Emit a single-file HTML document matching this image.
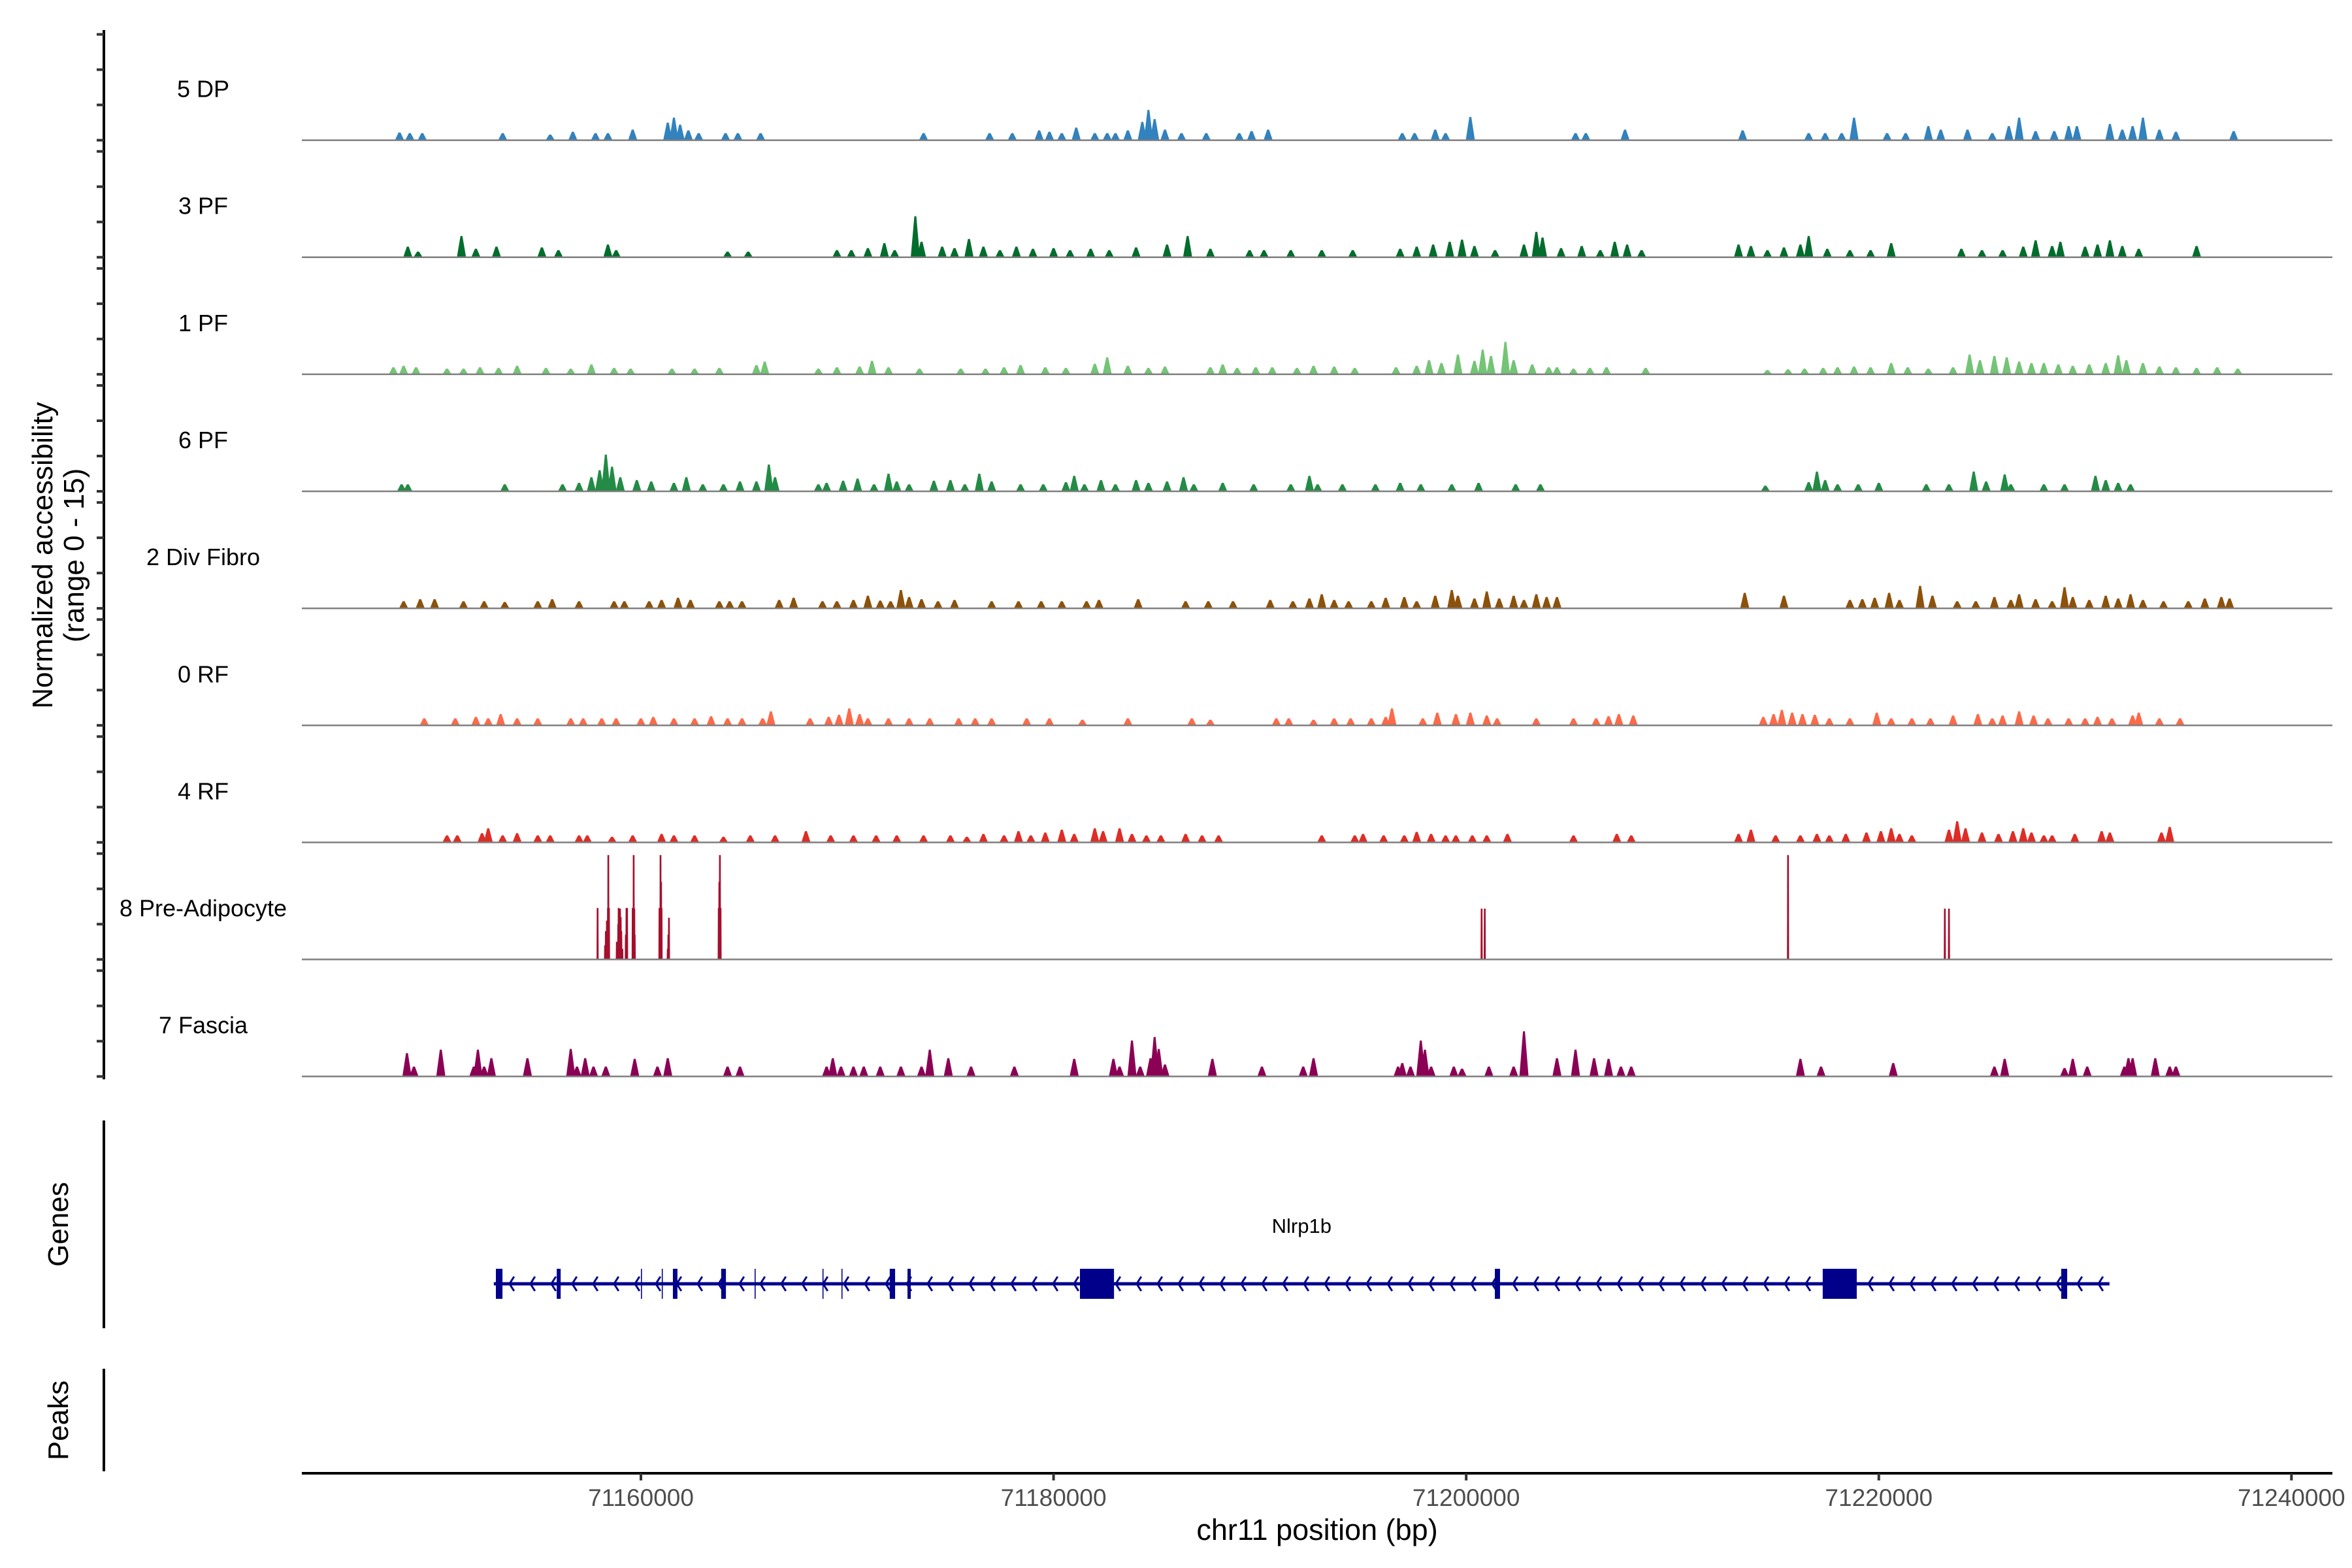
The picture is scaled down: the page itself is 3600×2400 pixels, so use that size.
<!DOCTYPE html>
<html><head><meta charset="utf-8"><title>Coverage plot</title>
<style>html,body{margin:0;padding:0;background:#fff}svg{display:block}text{font-family:"Liberation Sans",Arial,sans-serif}</style>
</head><body>
<svg id="chart" width="3600" height="2400" viewBox="0 0 3600 2400" xmlns="http://www.w3.org/2000/svg">
<rect x="0" y="0" width="3600" height="2400" fill="#fff"/>
<g id="tracks"></g>
<g id="yaxis"></g>
<text transform="translate(80,850) rotate(-90)" text-anchor="middle" font-size="44" fill="#000">Normalized accessibility</text>
<text transform="translate(128,850) rotate(-90)" text-anchor="middle" font-size="44" fill="#000">(range 0 - 15)</text>
<line x1="159" y1="1715" x2="159" y2="2033" stroke="#000" stroke-width="4"/>
<text transform="translate(104,1874) rotate(-90)" text-anchor="middle" font-size="44" fill="#000">Genes</text>
<line x1="159" y1="2095" x2="159" y2="2252" stroke="#000" stroke-width="4"/>
<text transform="translate(104,2174) rotate(-90)" text-anchor="middle" font-size="44" fill="#000">Peaks</text>
<g id="gene"></g>
<g id="xaxis"></g>
<text x="2016" y="2357" text-anchor="middle" font-size="45" fill="#000">chr11 position (bp)</text>
</svg>
<script>
var NS="http://www.w3.org/2000/svg";
var trackNames=["5 DP","3 PF","1 PF","6 PF","2 Div Fibro","0 RF","4 RF","8 Pre-Adipocyte","7 Fascia"];
var trackColors=["#3182bd","#006d2c","#74c476","#238b45","#8c510a","#fb6a4a","#de2d26","#a50f2d","#8b0055"];
var xTicks=[71160000,71180000,71200000,71220000,71240000];
var xTickLabels=["71160000","71180000","71200000","71220000","71240000"];
var yTickValues=[0,5,10,15];
// peaks: [position kb offset from 71,000,000, normalized accessibility]
var dp5=[[148.3,1.1],[148.8,1],[149.4,1],[153.3,1],[155.6,0.8],[156.7,1.2],[157.8,1],[158.4,1],[159.6,1.5],[161.3,2.5],[161.6,3.2],[161.9,2.2],[162.3,1.4],[162.8,1],[164.1,1],[164.7,1],[165.8,1],[173.7,1],[176.9,1],[178,1],[179.3,1.4],[179.8,1.2],[180.4,1],[181.1,1.8],[182,1],[182.6,1],[183,1],[183.6,1.4],[184.3,2.6],[184.6,4.3],[184.9,3],[185.4,1.5],[186.2,1],[187.4,1],[189,1],[189.6,1.3],[190.4,1.5],[196.9,1],[197.5,1],[198.5,1.5],[199,1],[200.2,3.3],[205.3,1],[205.8,1],[207.7,1.5],[213.4,1.4],[216.6,1],[217.4,1],[218.2,1],[218.8,3.2],[220.4,1],[221.3,1],[222.4,2],[223,1.5],[224.3,1.5],[225.5,1],[226.3,2],[226.8,3.2],[227.6,1.3],[228.5,1.3],[229.2,2],[229.6,2],[231.2,2.3],[231.8,1.5],[232.3,2],[232.8,3.2],[233.6,1.5],[234.4,1.2],[237.2,1.3]];
var pf3=[[148.7,1.5],[149.2,0.8],[151.3,3],[152,1.2],[153,1.5],[155.2,1.4],[156,1],[158.4,1.8],[158.8,1],[164.2,0.8],[165.2,0.8],[169.5,1],[170.2,1],[171,1.3],[171.8,2],[172.3,1],[173.3,5.8],[173.6,2.2],[174.6,1.5],[175.2,1.3],[175.9,2.6],[176.6,1.5],[177.4,1],[178.2,1.5],[179,1.2],[180,1.3],[180.8,1],[181.8,1.2],[182.7,1],[184,1.4],[185.5,1.8],[186.5,3],[187.6,1.2],[189.5,1],[190.2,1],[191.5,1],[193,1],[194.5,1],[196.8,1.2],[197.6,1.5],[198.4,1.8],[199.2,2.2],[199.8,2.5],[200.4,1.6],[201.4,1],[202.8,1.8],[203.4,3.6],[203.7,2.8],[204.6,1.3],[205.6,1.6],[206.5,1],[207.2,2.2],[207.8,1.8],[208.5,1],[213.2,1.8],[213.8,1.6],[214.6,1],[215.4,1.4],[216.2,1.8],[216.6,3],[217.5,1.2],[218.6,1],[219.6,1],[220.6,2],[224,1.2],[225,1],[226,1],[227,1.5],[227.6,2.4],[228.4,1.6],[228.8,2.2],[230,1.5],[230.6,1.8],[231.2,2.4],[231.8,1.6],[232.6,1.2],[235.4,1.6]];
var pf1=[[148,1],[148.5,1.2],[149.1,1],[150.6,0.8],[151.4,0.8],[152.2,1],[153.1,0.9],[154,1.2],[155.4,0.9],[156.6,0.8],[157.6,1.4],[158.7,0.9],[159.5,0.8],[161.5,0.8],[162.6,0.8],[163.8,0.9],[165.6,1.3],[166,1.8],[168.6,0.8],[169.5,1],[170.6,1.1],[171.2,1.9],[172,1],[173.5,0.8],[175.5,0.8],[176.7,0.8],[177.6,1],[178.4,1.3],[179.6,1],[180.6,0.9],[182,1.5],[182.6,2.4],[183.6,1.2],[184.6,0.9],[185.4,1.1],[187.6,1],[188.2,1.4],[188.9,0.9],[189.8,1],[190.6,1],[191.8,0.9],[192.6,1.2],[193.6,1.1],[194.6,0.9],[196.6,1],[197.6,1.2],[198.2,2],[198.8,1.6],[199.6,2.8],[200.4,1.9],[200.8,3.5],[201.2,2.6],[201.9,4.6],[202.3,2],[203.2,1.4],[204,1],[204.4,1],[205.2,0.8],[206,0.9],[206.8,1],[208.7,0.9],[214.6,0.6],[215.6,0.7],[216.4,0.8],[217.3,0.9],[218,1],[218.8,1.1],[219.6,1],[220.6,1.6],[221.4,1],[222.4,0.8],[223.6,1],[224.4,2.8],[224.9,2],[225.6,2.6],[226.2,2.4],[226.8,1.8],[227.4,1.6],[228,1.6],[228.7,1.4],[229.4,1.2],[230.2,1.4],[231,1.6],[231.6,2.7],[232,2],[232.8,1.6],[233.6,1.1],[234.4,1],[235.4,0.9],[236.4,1],[237.4,0.8]];
var pf6=[[148.4,1],[148.7,1],[153.4,1],[156.2,1],[157,1.2],[157.6,2],[158,3],[158.3,5.2],[158.6,3.5],[159,2],[159.8,1.6],[160.5,1.4],[161.6,1.2],[162.2,2],[163,1],[164,1],[164.8,1.4],[165.6,1.4],[166.2,3.8],[166.5,2],[168.6,1],[169,1.2],[169.8,1.5],[170.5,1.8],[171.3,1],[172,2.5],[172.4,1.4],[173,1],[174.2,1.5],[175,1.6],[175.7,1],[176.4,2.5],[177,1.4],[178.4,1],[179.5,1],[180.6,1.3],[181,2.2],[181.5,1],[182.3,1.6],[183,1],[184,1.6],[184.6,1.2],[185.5,1.4],[186.3,2],[186.8,1],[188.2,1.2],[189.7,1],[191.5,1],[192.4,2.2],[192.8,1],[194,1],[195.6,1],[196.8,1.2],[197.8,1],[199.3,1],[200.6,1.2],[202.4,1],[203.6,1],[214.5,0.8],[216.6,1.3],[217,2.8],[217.4,1.6],[218,1],[219,1],[220,1.2],[222.3,1],[223.4,1],[224.6,2.8],[225.2,1.4],[226.1,2.4],[226.4,1],[228,1],[229,1],[230.5,2.2],[231,1.6],[231.6,1.2],[232.2,1]];
var divFibro=[[148.5,1],[149.3,1.3],[150,1.3],[151.4,1],[152.4,1],[153.4,0.9],[155,1],[155.7,1.3],[157,1],[158.7,1],[159.2,1],[160.4,1],[161,1.2],[161.8,1.5],[162.4,1.2],[163.8,1],[164.3,1],[164.9,1],[166.7,1.2],[167.4,1.5],[168.8,1],[169.5,1],[170.3,1.2],[171,1.8],[171.6,1.1],[172.1,1],[172.6,2.6],[173,1.6],[173.6,1.3],[174.4,1],[175.2,1.2],[177,1],[178.3,1],[179.4,1],[180.4,1],[181.6,1],[182.2,1.2],[184.1,1.3],[186.4,1],[187.5,1],[188.7,1],[190.5,1.2],[191.6,1],[192.4,1.4],[193,2],[193.6,1.2],[194.3,1],[195.4,1],[196.1,1.5],[197,1.6],[197.6,1],[198.5,1.8],[199.3,2.6],[199.6,1.8],[200.4,1.4],[201,2.4],[201.6,1.4],[202.3,1.8],[202.8,1.2],[203.4,2],[203.9,1.6],[204.4,1.6],[213.5,2.2],[215.4,1.8],[218.6,1.2],[219.2,1.3],[219.8,1.5],[220.5,2.2],[221,1.2],[222,3.2],[222.6,1.8],[223.8,1],[224.7,1],[225.6,1.6],[226.4,1.2],[226.8,2],[227.6,1.3],[228.4,1],[229,3],[229.4,1.6],[230.2,1.2],[231,1.8],[231.6,1.4],[232.2,2],[232.8,1.2],[233.8,1],[235,1],[235.8,1.4],[236.6,1.6],[237,1.4]];
var rf0=[[149.5,1],[151,1],[152,1.2],[152.6,1],[153.2,1.6],[154,1],[155,1],[156.6,1],[157.2,1],[158.1,1],[158.8,1],[160,1],[160.6,1.2],[161.6,1],[162.6,1],[163.4,1.3],[164.2,1],[164.9,1],[165.9,1],[166.3,2],[168.2,1],[169.1,1.2],[169.6,1.5],[170.1,2.4],[170.6,1.6],[171,1],[172,1],[173,1],[174,1],[175.4,1],[176.2,1],[177,1],[178.7,1],[179.8,1],[181.4,0.8],[183.6,1],[186.7,1],[187.6,0.8],[190.8,1],[191.4,1],[192.6,0.8],[193.6,1],[194.4,1],[195.4,1],[196.1,1.2],[196.4,2.4],[197.9,1],[198.6,1.8],[199.5,1.6],[200.2,1.8],[201,1.4],[201.5,1],[203.4,1],[205.2,1],[206.3,1],[206.9,1.3],[207.4,1.6],[208.1,1.4],[214.4,1.2],[214.9,1.6],[215.3,2.2],[215.8,1.8],[216.3,1.6],[216.9,1.5],[217.6,1],[218.6,1],[219.9,1.8],[220.6,1],[221.6,1],[222.5,1],[223.6,1.4],[224.8,1.6],[225.5,1],[226,1.4],[226.8,2],[227.5,1.4],[228.2,1],[229.2,1],[230,1],[230.6,1.2],[231.3,1],[232.3,1.4],[232.6,1.8],[233.6,1],[234.6,1]];
var rf4=[[150.6,1],[151.1,1],[152.3,1.3],[152.6,2],[153.3,1],[154,1.3],[155,1],[155.6,1],[157,1],[157.4,1],[158.6,0.8],[159.6,1],[161,1.2],[161.6,1],[162.6,1],[164,0.8],[165.3,1],[166.5,1],[168,1.6],[169.2,1],[170.3,1],[171.4,1],[172.4,1],[173.7,1],[175,1],[175.8,0.8],[176.6,1.2],[177.6,1],[178.3,1.6],[178.9,1],[179.6,1.4],[180.4,1.8],[181,1.2],[182,2],[182.4,1.6],[183.2,2],[183.8,1.2],[184.5,1],[185.2,1],[186.4,1.2],[187.2,1],[188,1],[193,1],[194.6,1],[195,1.2],[196,1],[197,1],[197.6,1.5],[198.3,1.2],[199,1],[199.5,1],[200.3,1],[201,1],[202,1.2],[205.2,1],[207.3,1.2],[208,1],[213.2,1.2],[213.8,1.8],[215,1],[216.2,1],[217,1.2],[217.6,1],[218.4,1.2],[219.4,1.4],[220.1,1.6],[220.6,2],[221,1.2],[221.6,1],[223.4,1.8],[223.8,3],[224.2,2],[225,1.4],[225.8,1.2],[226.5,1.6],[227,2],[227.4,1.4],[228,1],[228.4,1],[229.5,1.2],[230.8,1.6],[231.2,1.4],[233.7,1.4],[234.1,2.2]];
var preAdipo=[[157.9,7.3],[158.26,2],[158.3,4],[158.35,5.5],[158.4,7.3],[158.42,14.8],[158.45,7.3],[158.83,2.5],[158.9,5],[158.92,7.3],[158.99,7.2],[159.02,6],[159.05,4],[159.1,1.5],[159.27,3.5],[159.3,7.3],[159.33,7.3],[159.6,7.3],[159.65,14.8],[159.68,7.2],[159.7,3.5],[160.9,7.3],[160.95,14.8],[160.98,11],[161.0,7.3],[161.3,1.5],[161.33,3.5],[161.36,5.9],[163.77,7.3],[163.8,11],[163.83,14.8],[163.86,7.3],[200.75,7.2],[200.9,7.2],[215.6,14.8],[223.2,7.2],[223.4,7.2]];
var fascia=[[148.66,3.3],[149.0,1.4],[150.3,3.8],[151.9,1.4],[152.1,3.8],[152.4,1.4],[152.75,2.6],[154.5,2.6],[156.6,3.9],[156.9,1.4],[157.3,2.6],[157.7,1.4],[158.3,1.4],[159.7,2.5],[160.8,1.4],[161.3,2.6],[164.2,1.4],[164.8,1.4],[169.0,1.4],[169.3,2.6],[169.7,1.4],[170.3,1.4],[170.8,1.4],[171.6,1.4],[172.6,1.4],[173.6,1.4],[174.0,3.8],[174.9,2.6],[176.0,1.4],[178.1,1.4],[181.0,2.5],[182.9,2.5],[183.2,1.4],[183.8,5.1],[184.2,1.4],[184.7,2.6],[184.9,5.6],[185.1,3.9],[185.4,1.7],[187.7,2.5],[190.1,1.4],[192.1,1.4],[192.6,2.6],[196.7,1.4],[196.9,1.9],[197.3,1.4],[197.8,5.1],[198.0,3.8],[198.3,1.4],[199.4,1.4],[199.8,1.1],[201.1,1.4],[202.3,1.4],[202.8,6.4],[204.4,2.6],[205.3,3.8],[206.2,2.6],[206.9,2.5],[207.5,1.4],[208.0,1.4],[216.2,2.5],[217.2,1.4],[220.7,1.9],[225.6,1.4],[226.1,2.5],[229.0,1.2],[229.4,2.5],[230.1,1.4],[231.9,1.4],[232.1,2.6],[232.3,2.6],[233.4,2.6],[234.1,1.4],[234.4,1.4]];
var trackData=[dp5,pf3,pf1,pf6,divFibro,rf0,rf4,preAdipo,fascia];
var geneName="Nlrp1b";
var geneStartKb=152.87, geneEndKb=231.18;
var exonStarts=[152.97,155.92,160.0,161.01,161.55,163.89,165.51,168.80,169.72,172.06,172.92,181.28,201.39,217.28,228.84];
var exonEnds=[153.29,156.11,160.05,161.06,161.77,164.12,165.56,168.85,169.77,172.32,173.08,182.93,201.64,218.93,229.13];

var PLOT_L=462, PLOT_R=3570, BP0=71160000, PX0=981, PX_PER_BP=0.031579;
function X(bp){return PX0+(bp-BP0)*PX_PER_BP;}
function XK(kb){return X(71000000+kb*1000);}
var BASE0=214.6, TRACK_STEP=179.13, UNIT_PX=10.8;
function baseY(i){return BASE0+TRACK_STEP*i;}
function Y(i,v){return baseY(i)-v*UNIT_PX;}
function mk(tag,attrs,parent){var el=document.createElementNS(NS,tag);for(var k in attrs)el.setAttribute(k,attrs[k]);parent.appendChild(el);return el;}

var gT=document.getElementById('tracks');
var gY=document.getElementById('yaxis');
var ax=mk('line',{x1:159,y1:46,x2:159,y2:1652,stroke:'#000','stroke-width':4},gY);


for(var i=0;i<trackNames.length;i++){
  var g=mk('g',{},gT);
  
  
  var lab=mk('text',{x:311,y:baseY(i)-66,'text-anchor':'middle','font-size':36,fill:'#000'},g);
  lab.textContent=trackNames[i];
  
  
  var d=trackData[i];
  var b=baseY(i);
  for(var j=0;j<d.length;j++){
    var px=XK(d[j][0]), yT=Y(i,d[j][1]);
    var hb=(i===7)?1.6:7, ht=(i===7)?1.3:1.5;
    var pts=(px-hb).toFixed(1)+','+b.toFixed(1)+' '+(px-ht).toFixed(1)+','+yT.toFixed(1)+' '+(px+ht).toFixed(1)+','+yT.toFixed(1)+' '+(px+hb).toFixed(1)+','+b.toFixed(1);
    var r=mk('polygon',{points:pts,fill:trackColors[i]},g);
    
    
  }
  var bl=mk('line',{x1:PLOT_L,x2:PLOT_R,y1:b,y2:b,stroke:'#7f7f7f','stroke-width':2.5},g);
  
  
  for(var t=0;t<yTickValues.length;t++){
    var ty=Y(i,yTickValues[t]);
    var tk=mk('line',{x1:148,x2:159,y1:ty,y2:ty,stroke:'#333','stroke-width':4},gY);
    
    
  }
}

var gG=document.getElementById('gene');
var GY=1965;
var gl=mk('line',{x1:XK(geneStartKb),x2:XK(geneEndKb),y1:GY,y2:GY,stroke:'#00008b','stroke-width':5},gG);


for(var a=XK(geneStartKb)+24;a<XK(geneEndKb)-10;a+=32){
  var ch=mk('polyline',{points:(a+7)+','+(GY-11)+' '+a+','+GY+' '+(a+7)+','+(GY+11),fill:'none',stroke:'#00008b','stroke-width':3},gG);
  
  
}
for(var e=0;e<exonStarts.length;e++){
  var x1=XK(exonStarts[e]),x2=XK(exonEnds[e]);
  var ex=mk('rect',{x:x1,y:GY-23,width:Math.max(1.5,x2-x1),height:46,fill:'#00008b'},gG);
  
  
}
var gn=mk('text',{x:XK((geneStartKb+geneEndKb)/2),y:1887,'text-anchor':'middle','font-size':31,fill:'#000'},gG);
gn.textContent=geneName;



var gX=document.getElementById('xaxis');
var xl=mk('line',{x1:PLOT_L,x2:PLOT_R,y1:2255,y2:2255,stroke:'#000','stroke-width':4},gX);


for(var k=0;k<xTicks.length;k++){
  var tx=X(xTicks[k]);
  var tl=mk('line',{x1:tx,x2:tx,y1:2255,y2:2266,stroke:'#333','stroke-width':4},gX);
  
  
  var tt=mk('text',{x:tx,y:2305,'text-anchor':'middle','font-size':37,fill:'#4d4d4d'},gX);
  tt.textContent=xTickLabels[k];
  
  
}
</script>
</body></html>
